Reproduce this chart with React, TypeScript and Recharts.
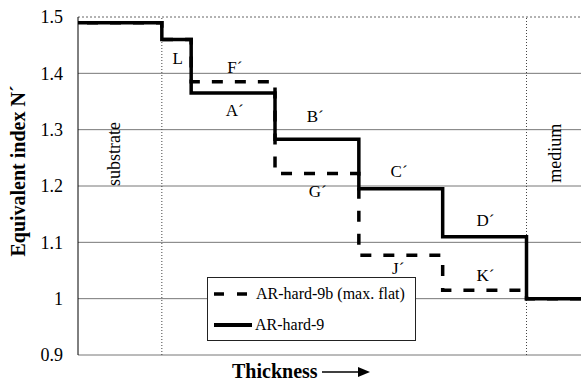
import React from 'react'
import {
  LineChart,
  Line,
  XAxis,
  YAxis,
  ReferenceLine,
  ReferenceDot,
  Label
} from 'recharts'

const FONT = 'Liberation Serif, Times New Roman, Times, DejaVu Serif, serif'

// layer edges along the thickness axis (arbitrary units)
const thickness = [0, 1, 1.35, 2.35, 3.35, 4.35, 5.35, 6]
const hard9 = [1.49, 1.46, 1.365, 1.283, 1.195, 1.11, 1.0, 1.0]
const hard9b = [1.49, 1.46, 1.385, 1.222, 1.077, 1.015, 1.0, 1.0]

const yTicks = [0.9, 1.0, 1.1, 1.2, 1.3, 1.4, 1.5]
const boundaries = [1, 5.35]

const layerNames = ['L', 'F´', 'A´', 'B´', 'G´', 'C´', 'D´', 'J´', 'K´']
const layerNameX = [1.19, 1.87, 1.87, 2.83, 2.86, 3.83, 4.86, 3.82, 4.86]
const layerNameY = [1.427, 1.411, 1.335, 1.324, 1.191, 1.226, 1.139, 1.054, 1.042]

const regionNames = ['substrate', 'medium']
const regionX = [0.43, 5.69]
const regionY = [1.257, 1.258]

const data = thickness.map((t, i) => ({ t, hard9: hard9[i], hard9b: hard9b[i] }))

function formatTick(v: number): string {
  return Math.abs(v - 1) < 1e-9 ? '1' : v.toFixed(1)
}

// eslint-disable-next-line @typescript-eslint/no-explicit-any
function YTitle({ viewBox }: any) {
  const cx = viewBox.x + 18
  const cy = viewBox.y + viewBox.height / 2 - 15
  return (
    <text
      x={cx}
      y={cy}
      transform={`rotate(-90 ${cx} ${cy})`}
      textAnchor="middle"
      dominantBaseline="central"
      style={{ fontFamily: FONT }}
      fontWeight="bold"
      fontSize={20}
      fill="#000"
    >
      Equivalent index N´
    </text>
  )
}

// eslint-disable-next-line @typescript-eslint/no-explicit-any
function XTitle({ viewBox }: any) {
  const x0 = viewBox.x + 154
  const y0 = viewBox.y + 16
  return (
    <g>
      <text
        x={x0}
        y={y0}
        dominantBaseline="central"
        style={{ fontFamily: FONT }}
        fontWeight="bold"
        fontSize={20}
        fill="#000"
      >
        Thickness
      </text>
      <line x1={x0 + 90} y1={y0 + 1} x2={x0 + 130} y2={y0 + 1} stroke="#000" strokeWidth={1.3} />
      <path d={`M${x0 + 126},${y0 - 4} L${x0 + 138},${y0 + 1} L${x0 + 126},${y0 + 6} Z`} fill="#000" />
    </g>
  )
}

function LegendBox() {
  return (
    <div
      style={{
        position: 'absolute',
        left: 207,
        top: 277,
        width: 209,
        height: 64,
        border: '1px solid #222',
        background: '#fff',
        fontFamily: FONT,
        fontSize: 16,
        color: '#000',
        boxSizing: 'border-box'
      }}
    >
      <div style={{ position: 'absolute', left: 4, top: 7, display: 'flex', alignItems: 'center' }}>
        <svg width={40} height={10}>
          <line x1={2} y1={5} x2={40} y2={5} stroke="#000" strokeWidth={3.5} strokeDasharray="10 13" />
        </svg>
        <span style={{ marginLeft: 4 }}>AR-hard-9b (max. flat)</span>
      </div>
      <div style={{ position: 'absolute', left: 4, top: 38, display: 'flex', alignItems: 'center' }}>
        <svg width={40} height={10}>
          <line x1={2} y1={5} x2={40} y2={5} stroke="#000" strokeWidth={4} />
        </svg>
        <span style={{ marginLeft: 3 }}>AR-hard-9</span>
      </div>
    </div>
  )
}

export default function App() {
  return (
    <div
      style={{
        position: 'absolute',
        left: 0,
        top: 0,
        width: 581,
        height: 381,
        background: '#fff',
        fontFamily: FONT
      }}
    >
      <LineChart
        width={581}
        height={381}
        data={data}
        margin={{ top: 17, right: 0, left: 0, bottom: 0 }}
        style={{ fontFamily: FONT }}
      >
        <XAxis
          dataKey="t"
          type="number"
          domain={[0, 6]}
          ticks={[]}
          tick={false}
          axisLine={false}
          tickLine={false}
          height={26}
          label={<XTitle />}
        />
        <YAxis
          type="number"
          domain={[0.9, 1.5]}
          ticks={yTicks}
          tickFormatter={formatTick}
          width={78}
          tickSize={0}
          tickMargin={15}
          tickLine={false}
          axisLine={{ stroke: '#000', strokeWidth: 1 }}
          tick={{ fontSize: 18, fill: '#000', fontFamily: FONT }}
          label={<YTitle />}
        />
        {yTicks.map((v) => (
          <ReferenceLine
            key={`g${v}`}
            y={v}
            stroke={v === 1.5 ? '#666' : '#777'}
            strokeWidth={1}
            strokeDasharray={v === 1.5 ? '2 2' : undefined}
          />
        ))}
        {boundaries.map((b) => (
          <ReferenceLine key={`b${b}`} x={b} stroke="#444" strokeWidth={1} strokeDasharray="1 2" />
        ))}
        <Line
          type="stepAfter"
          dataKey="hard9b"
          stroke="#000"
          strokeWidth={3.5}
          strokeDasharray="11 12"
          strokeDashoffset={14}
          dot={false}
          activeDot={false}
          isAnimationActive={false}
        />
        <Line
          type="stepAfter"
          dataKey="hard9"
          stroke="#000"
          strokeWidth={3.5}
          dot={false}
          activeDot={false}
          isAnimationActive={false}
        />
        {layerNames.map((name, i) => (
          <ReferenceDot
            key={name}
            x={layerNameX[i]}
            y={layerNameY[i]}
            r={1}
            fill="none"
            stroke="none"
          >
            <Label value={name} position="center" fontSize={17} fill="#000" fontFamily={FONT} />
          </ReferenceDot>
        ))}
        {regionNames.map((name, i) => (
          <ReferenceDot
            key={name}
            x={regionX[i]}
            y={regionY[i]}
            r={1}
            fill="none"
            stroke="none"
          >
            <Label value={name} position="center" angle={-90} fontSize={18} fill="#000" fontFamily={FONT} />
          </ReferenceDot>
        ))}
      </LineChart>
      <LegendBox />
    </div>
  )
}
